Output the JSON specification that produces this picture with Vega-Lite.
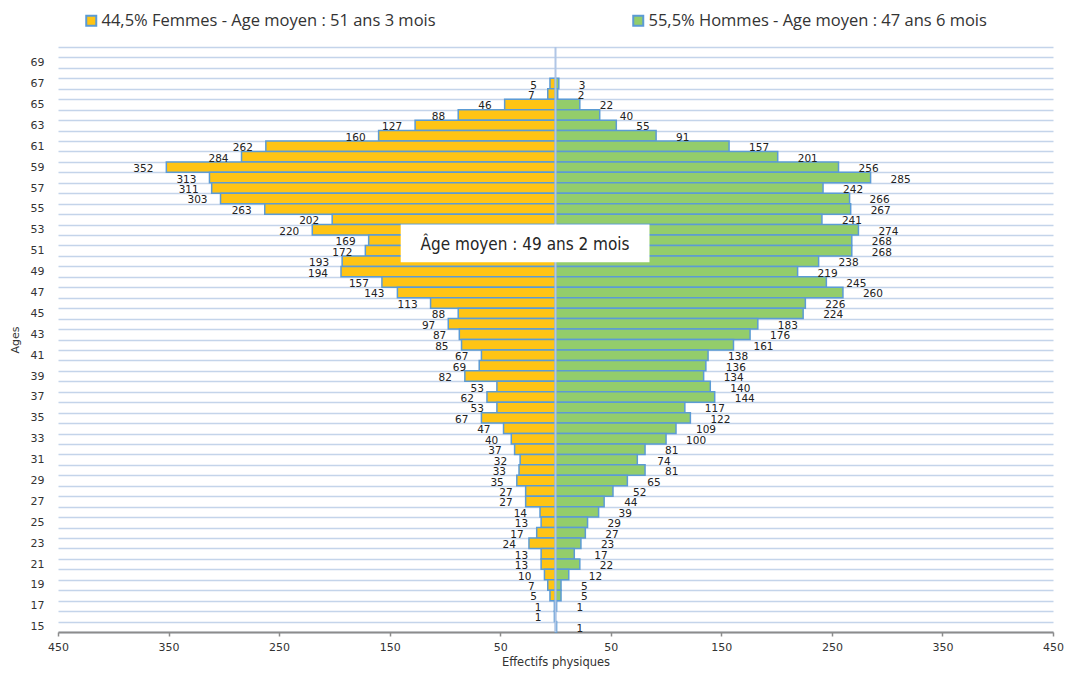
{
"$schema":"https://vega.github.io/schema/vega-lite/v6.json",
"width":995,"height":585,
"autosize":{"type":"none"},
"padding":{"left":58,"top":47,"right":12,"bottom":41},
"background":"white",
"config":{
 "view":{"stroke":null},
 "font":"DejaVu Sans",
 "axisX":{"domainColor":"#8C8C8C","domainWidth":2,"tickColor":"#8C8C8C","tickSize":4,"tickWidth":1.5,"labelFont":"DejaVu Sans","labelFontSize":11,"labelColor":"#333333","labelPadding":5,"labelFlush":false,"titleFont":"DejaVu Sans","titleFontSize":11.5,"titleFontWeight":"normal","titleColor":"#333333","titlePadding":4,"grid":false},
 "axisY":{"tickBand":"extent","grid":true,"gridColor":"#C4D4EA","gridWidth":1.5,"ticks":false,"tickSize":0,"domain":false,"labelOverlap":false,"labelPadding":14,"labelFont":"DejaVu Sans","labelFontSize":11,"labelColor":"#333333","titleFont":"DejaVu Sans","titleFontSize":11,"titleFontWeight":"normal","titleColor":"#333333","titlePadding":10},
 "legend":{"orient":"none","legendX":25,"legendY":-35,"direction":"horizontal","symbolType":"square","symbolSize":100,"symbolStrokeColor":"#5B9BD5","symbolStrokeWidth":2,"symbolOpacity":1,"labelFont":"Open Sans","labelFontSize":16.5,"labelColor":"#333333","labelLimit":700,"labelOffset":2,"columnPadding":193}
},
"data":{"values":[
{"age":67,"sexe":"Femmes","n":5},{"age":66,"sexe":"Femmes","n":7},{"age":65,"sexe":"Femmes","n":46},{"age":64,"sexe":"Femmes","n":88},{"age":63,"sexe":"Femmes","n":127},{"age":62,"sexe":"Femmes","n":160},{"age":61,"sexe":"Femmes","n":262},{"age":60,"sexe":"Femmes","n":284},{"age":59,"sexe":"Femmes","n":352},{"age":58,"sexe":"Femmes","n":313},{"age":57,"sexe":"Femmes","n":311},{"age":56,"sexe":"Femmes","n":303},{"age":55,"sexe":"Femmes","n":263},{"age":54,"sexe":"Femmes","n":202},{"age":53,"sexe":"Femmes","n":220},{"age":52,"sexe":"Femmes","n":169},{"age":51,"sexe":"Femmes","n":172},{"age":50,"sexe":"Femmes","n":193},{"age":49,"sexe":"Femmes","n":194},{"age":48,"sexe":"Femmes","n":157},{"age":47,"sexe":"Femmes","n":143},{"age":46,"sexe":"Femmes","n":113},{"age":45,"sexe":"Femmes","n":88},{"age":44,"sexe":"Femmes","n":97},{"age":43,"sexe":"Femmes","n":87},{"age":42,"sexe":"Femmes","n":85},{"age":41,"sexe":"Femmes","n":67},{"age":40,"sexe":"Femmes","n":69},{"age":39,"sexe":"Femmes","n":82},{"age":38,"sexe":"Femmes","n":53},{"age":37,"sexe":"Femmes","n":62},{"age":36,"sexe":"Femmes","n":53},{"age":35,"sexe":"Femmes","n":67},{"age":34,"sexe":"Femmes","n":47},{"age":33,"sexe":"Femmes","n":40},{"age":32,"sexe":"Femmes","n":37},{"age":31,"sexe":"Femmes","n":32},{"age":30,"sexe":"Femmes","n":33},{"age":29,"sexe":"Femmes","n":35},{"age":28,"sexe":"Femmes","n":27},{"age":27,"sexe":"Femmes","n":27},{"age":26,"sexe":"Femmes","n":14},{"age":25,"sexe":"Femmes","n":13},{"age":24,"sexe":"Femmes","n":17},{"age":23,"sexe":"Femmes","n":24},{"age":22,"sexe":"Femmes","n":13},{"age":21,"sexe":"Femmes","n":13},{"age":20,"sexe":"Femmes","n":10},{"age":19,"sexe":"Femmes","n":7},{"age":18,"sexe":"Femmes","n":5},{"age":17,"sexe":"Femmes","n":1},{"age":16,"sexe":"Femmes","n":1},
{"age":67,"sexe":"Hommes","n":3},{"age":66,"sexe":"Hommes","n":2},{"age":65,"sexe":"Hommes","n":22},{"age":64,"sexe":"Hommes","n":40},{"age":63,"sexe":"Hommes","n":55},{"age":62,"sexe":"Hommes","n":91},{"age":61,"sexe":"Hommes","n":157},{"age":60,"sexe":"Hommes","n":201},{"age":59,"sexe":"Hommes","n":256},{"age":58,"sexe":"Hommes","n":285},{"age":57,"sexe":"Hommes","n":242},{"age":56,"sexe":"Hommes","n":266},{"age":55,"sexe":"Hommes","n":267},{"age":54,"sexe":"Hommes","n":241},{"age":53,"sexe":"Hommes","n":274},{"age":52,"sexe":"Hommes","n":268},{"age":51,"sexe":"Hommes","n":268},{"age":50,"sexe":"Hommes","n":238},{"age":49,"sexe":"Hommes","n":219},{"age":48,"sexe":"Hommes","n":245},{"age":47,"sexe":"Hommes","n":260},{"age":46,"sexe":"Hommes","n":226},{"age":45,"sexe":"Hommes","n":224},{"age":44,"sexe":"Hommes","n":183},{"age":43,"sexe":"Hommes","n":176},{"age":42,"sexe":"Hommes","n":161},{"age":41,"sexe":"Hommes","n":138},{"age":40,"sexe":"Hommes","n":136},{"age":39,"sexe":"Hommes","n":134},{"age":38,"sexe":"Hommes","n":140},{"age":37,"sexe":"Hommes","n":144},{"age":36,"sexe":"Hommes","n":117},{"age":35,"sexe":"Hommes","n":122},{"age":34,"sexe":"Hommes","n":109},{"age":33,"sexe":"Hommes","n":100},{"age":32,"sexe":"Hommes","n":81},{"age":31,"sexe":"Hommes","n":74},{"age":30,"sexe":"Hommes","n":81},{"age":29,"sexe":"Hommes","n":65},{"age":28,"sexe":"Hommes","n":52},{"age":27,"sexe":"Hommes","n":44},{"age":26,"sexe":"Hommes","n":39},{"age":25,"sexe":"Hommes","n":29},{"age":24,"sexe":"Hommes","n":27},{"age":23,"sexe":"Hommes","n":23},{"age":22,"sexe":"Hommes","n":17},{"age":21,"sexe":"Hommes","n":22},{"age":20,"sexe":"Hommes","n":12},{"age":19,"sexe":"Hommes","n":5},{"age":18,"sexe":"Hommes","n":5},{"age":17,"sexe":"Hommes","n":1},{"age":15,"sexe":"Hommes","n":1}
]},
"layer":[
 {
  "transform":[{"filter":"datum.sexe == 'Femmes'"}],
  "layer":[
   {"mark":{"type":"bar","stroke":"#5B9BD5","strokeWidth":1.5},
    "encoding":{
     "x":{"field":"n","type":"quantitative","scale":{"domain":[-450,450],"reverse":true,"nice":false},"axis":null},
     "y":{"field":"age","type":"ordinal","scale":{"domain":[70,69,68,67,66,65,64,63,62,61,60,59,58,57,56,55,54,53,52,51,50,49,48,47,46,45,44,43,42,41,40,39,38,37,36,35,34,33,32,31,30,29,28,27,26,25,24,23,22,21,20,19,18,17,16,15],"paddingInner":0,"paddingOuter":0},"axis":{"title":"Ages","labelExpr":"datum.value % 2 == 1 ? datum.label : ''"}},
     "color":{"field":"sexe","type":"nominal","scale":{"domain":["Femmes","Hommes"],"range":["#FFC414","#93CD6B"]},"legend":{"title":null,"labelExpr":"datum.label == 'Femmes' ? '44,5% Femmes - Age moyen : 51 ans 3 mois' : '55,5% Hommes - Age moyen : 47 ans 6 mois'"}}
    }},
   {"mark":{"type":"text","align":"right","baseline":"middle","dx":-13,"dy":2,"fontSize":10.5,"font":"DejaVu Sans","color":"#222222"},
    "encoding":{
     "x":{"field":"n","type":"quantitative","scale":{"domain":[-450,450],"reverse":true,"nice":false},"axis":null},
     "y":{"field":"age","type":"ordinal","scale":{"domain":[70,69,68,67,66,65,64,63,62,61,60,59,58,57,56,55,54,53,52,51,50,49,48,47,46,45,44,43,42,41,40,39,38,37,36,35,34,33,32,31,30,29,28,27,26,25,24,23,22,21,20,19,18,17,16,15],"paddingInner":0,"paddingOuter":0},"axis":{"title":"Ages","labelExpr":"datum.value % 2 == 1 ? datum.label : ''"}},
     "text":{"field":"n","type":"quantitative"}
    }}
  ]
 },
 {
  "layer":[
   {"transform":[{"filter":"datum.sexe == 'Hommes'"}],
    "mark":{"type":"bar","stroke":"#5B9BD5","strokeWidth":1.5},
    "encoding":{
     "x":{"field":"n","type":"quantitative","scale":{"domain":[-450,450],"nice":false},"axis":{"title":"Effectifs physiques","values":[-450,-350,-250,-150,-50,50,150,250,350,450],"labelExpr":"format(abs(datum.value),'d')"}},
     "y":{"field":"age","type":"ordinal","scale":{"domain":[70,69,68,67,66,65,64,63,62,61,60,59,58,57,56,55,54,53,52,51,50,49,48,47,46,45,44,43,42,41,40,39,38,37,36,35,34,33,32,31,30,29,28,27,26,25,24,23,22,21,20,19,18,17,16,15],"paddingInner":0,"paddingOuter":0},"axis":{"title":"Ages","labelExpr":"datum.value % 2 == 1 ? datum.label : ''"}},
     "color":{"field":"sexe","type":"nominal","scale":{"domain":["Femmes","Hommes"],"range":["#FFC414","#93CD6B"]},"legend":{"title":null,"labelExpr":"datum.label == 'Femmes' ? '44,5% Femmes - Age moyen : 51 ans 3 mois' : '55,5% Hommes - Age moyen : 47 ans 6 mois'"}}
    }},
   {"transform":[{"filter":"datum.sexe == 'Hommes'"}],
    "mark":{"type":"text","align":"left","baseline":"middle","dx":20,"dy":2,"fontSize":10.5,"font":"DejaVu Sans","color":"#222222"},
    "encoding":{
     "x":{"field":"n","type":"quantitative","scale":{"domain":[-450,450],"nice":false},"axis":{"title":"Effectifs physiques","values":[-450,-350,-250,-150,-50,50,150,250,350,450],"labelExpr":"format(abs(datum.value),'d')"}},
     "y":{"field":"age","type":"ordinal","scale":{"domain":[70,69,68,67,66,65,64,63,62,61,60,59,58,57,56,55,54,53,52,51,50,49,48,47,46,45,44,43,42,41,40,39,38,37,36,35,34,33,32,31,30,29,28,27,26,25,24,23,22,21,20,19,18,17,16,15],"paddingInner":0,"paddingOuter":0},"axis":{"title":"Ages","labelExpr":"datum.value % 2 == 1 ? datum.label : ''"}},
     "text":{"field":"n","type":"quantitative"}
    }},
   {"data":{"values":[{}]},
    "mark":{"type":"rule","color":"#B0C6E6","strokeWidth":2},
    "encoding":{
     "x":{"datum":0,"type":"quantitative","scale":{"domain":[-450,450],"nice":false},"axis":{"title":"Effectifs physiques","values":[-450,-350,-250,-150,-50,50,150,250,350,450],"labelExpr":"format(abs(datum.value),'d')"}}
    }},
   {"data":{"values":[{}]},
    "mark":{"type":"rect","fill":"white","stroke":null},
    "encoding":{
     "x":{"datum":-140,"type":"quantitative","scale":{"domain":[-450,450],"nice":false},"axis":{"title":"Effectifs physiques","values":[-450,-350,-250,-150,-50,50,150,250,350,450],"labelExpr":"format(abs(datum.value),'d')"}},
     "x2":{"datum":85},
     "y":{"datum":53,"type":"ordinal","bandPosition":0,"scale":{"domain":[70,69,68,67,66,65,64,63,62,61,60,59,58,57,56,55,54,53,52,51,50,49,48,47,46,45,44,43,42,41,40,39,38,37,36,35,34,33,32,31,30,29,28,27,26,25,24,23,22,21,20,19,18,17,16,15],"paddingInner":0,"paddingOuter":0},"axis":{"title":"Ages","labelExpr":"datum.value % 2 == 1 ? datum.label : ''"}},
     "y2":{"datum":50,"bandPosition":0.6}
    }},
   {"data":{"values":[{}]},
    "mark":{"type":"text","align":"center","baseline":"middle","font":"DejaVu Sans Condensed","fontSize":17,"color":"#262626"},
    "encoding":{
     "x":{"datum":-27.5,"type":"quantitative","scale":{"domain":[-450,450],"nice":false},"axis":{"title":"Effectifs physiques","values":[-450,-350,-250,-150,-50,50,150,250,350,450],"labelExpr":"format(abs(datum.value),'d')"}},
     "y":{"datum":52,"type":"ordinal","bandPosition":1,"scale":{"domain":[70,69,68,67,66,65,64,63,62,61,60,59,58,57,56,55,54,53,52,51,50,49,48,47,46,45,44,43,42,41,40,39,38,37,36,35,34,33,32,31,30,29,28,27,26,25,24,23,22,21,20,19,18,17,16,15],"paddingInner":0,"paddingOuter":0},"axis":{"title":"Ages","labelExpr":"datum.value % 2 == 1 ? datum.label : ''"}},
     "text":{"value":"Âge moyen : 49 ans 2 mois"}
    }}
  ]
 }
],
"resolve":{"scale":{"x":"independent"},"axis":{"x":"independent"}}
}
